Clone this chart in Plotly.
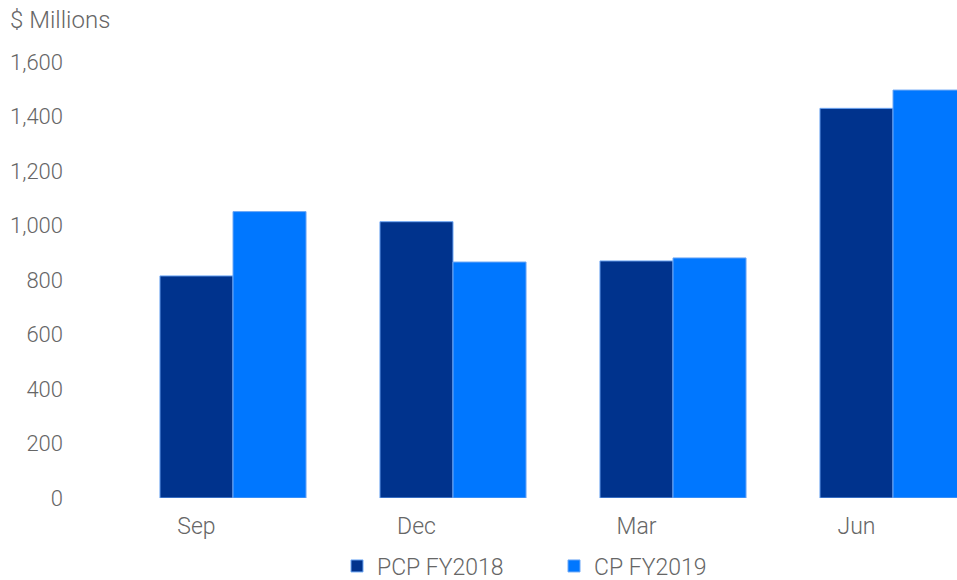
import plotly.graph_objects as go

categories = ["Sep", "Dec", "Mar", "Jun"]
pcp_fy2018 = [815, 1014, 870, 1430]
cp_fy2019 = [1051, 866, 881, 1497]
y_ticks = [0, 200, 400, 600, 800, 1000, 1200, 1400, 1600]

NAVY = "#00338D"
BLUE = "#0077FF"
TXT = "#666666"
FONT = "Roboto"

idx = list(range(len(categories)))
bargap = 0.336
bar_w = (1 - bargap) / 2

fig = go.Figure()
fig.add_trace(go.Bar(x=idx, y=pcp_fy2018, name="PCP FY2018",
                     marker=dict(color=NAVY, line=dict(color="#6FA8F5", width=1))))
fig.add_trace(go.Bar(x=idx, y=cp_fy2019, name="CP FY2019",
                     marker=dict(color=BLUE, line=dict(color="#6FA8F5", width=1))))

W, H = 957, 580
L, T, R = 80, 62, 0
B = H - 498
px_per_unit = 220
group0 = 233
plot_w = W - L - R
plot_h = H - T - B

fig.update_layout(
    width=W, height=H,
    margin=dict(l=L, r=R, t=T, b=B, autoexpand=False),
    barmode="group", bargap=bargap, bargroupgap=0,
    plot_bgcolor="white", paper_bgcolor="white",
    font=dict(family=FONT, size=22, color=TXT, weight=300),
    xaxis=dict(
        range=[-(group0 - L) / px_per_unit, (W - R - group0) / px_per_unit],
        tickvals=[i - bar_w / 2 for i in idx], ticktext=categories,
        showgrid=False, zeroline=False, showline=False, ticks="",
        ticklabelstandoff=12, automargin=False,
        tickfont=dict(family=FONT, size=23, color=TXT, weight=300),
    ),
    yaxis=dict(
        range=[0, 1600], tickvals=y_ticks,
        tickformat=",d",
        showgrid=False, zeroline=False, showline=False, ticks="",
        ticklabelstandoff=16, automargin=False,
        tickfont=dict(family=FONT, size=22, color=TXT, weight=300),
    ),
    legend=dict(orientation="h", x=(337 - L) / plot_w, xanchor="left",
                y=-(566 - (H - B)) / plot_h, yanchor="middle",
                font=dict(family=FONT, size=23, color=TXT, weight=300),
                entrywidth=172, entrywidthmode="pixels"),
    annotations=[dict(text="$ Millions", xref="paper", yref="paper", x=0, y=1,
                      xanchor="left", yanchor="middle", xshift=-(L - 8), yshift=T - 20,
                      showarrow=False,
                      font=dict(family=FONT, size=24, color=TXT, weight=300))],
)

fig.write_html("out.html",
               config={"displayModeBar": False},
               post_script="document.body.style.margin='0';document.body.style.overflow='hidden';")
